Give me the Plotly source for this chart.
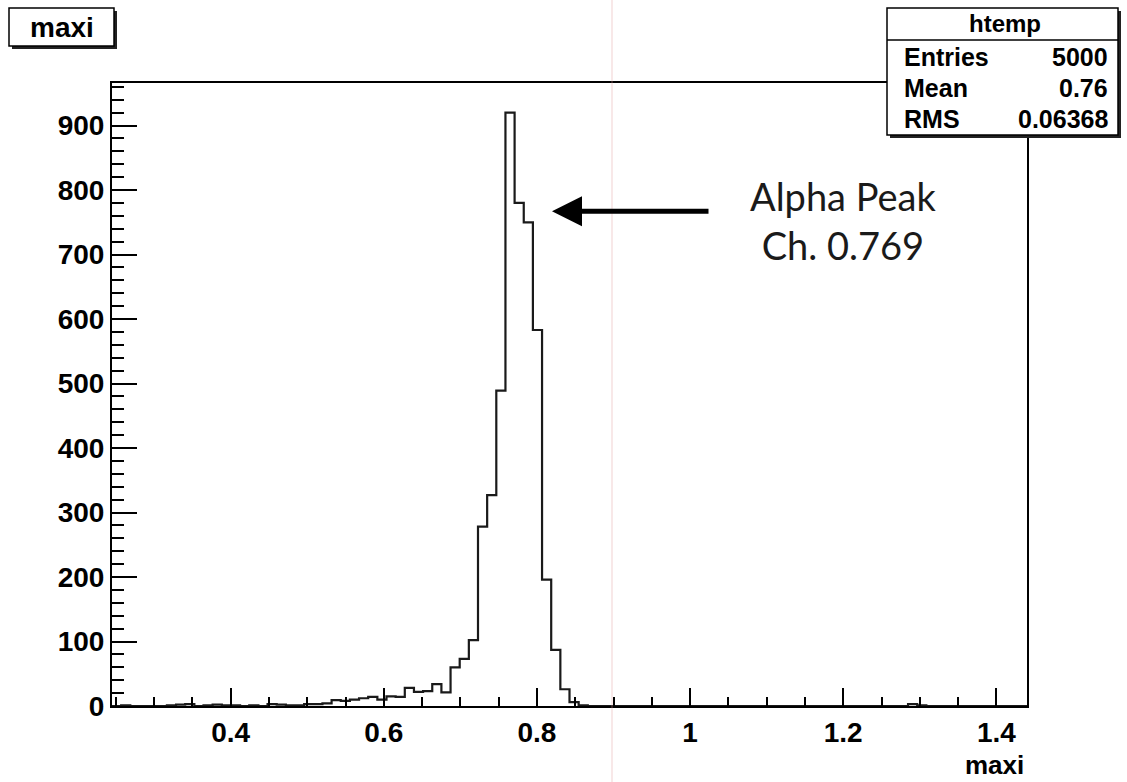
import plotly.graph_objects as go

# ---------------- data ----------------
var_name = "maxi"
hist_name = "htemp"
x_min = 0.245
x_max = 1.44
n_bins = 100
counts = [
    0, 1, 0, 0, 0, 0, 1, 2, 3, 0,
    1, 2, 1, 1, 0, 1, 0, 3, 2, 1,
    1, 3, 3, 4, 9, 8, 10, 12, 14, 10,
    15, 14, 28, 22, 23, 34, 21, 60, 73, 102,
    278, 327, 489, 920, 780, 750, 583, 196, 87, 26,
    6, 1, 0, 0, 0, 0, 0, 0, 0, 0,
    0, 0, 0, 0, 0, 0, 0, 0, 0, 0,
    0, 0, 0, 0, 0, 0, 0, 0, 0, 0,
    0, 0, 0, 0, 0, 0, 0, 3, 1, 0,
    0, 0, 0, 0, 0, 0, 0, 0, 0, 0,
]
stats_labels = ["Entries", "Mean", "RMS"]
stats_values = ["5000", "0.76", "0.06368"]
peak_label = "Alpha Peak<br>Ch. 0.769"
peak_arrow_tip = (0.8196, 767)
peak_arrow_tail = (1.026, 767)
peak_text_pos = (1.1995, 753)
y_max = 966

# ---------------- figure ----------------
W, H = 1127, 782
L, R, T, B = 112, 100, 83, 76
pw, ph = W - L - R, H - T - B

def px(x):
    return (x - L) / pw

def py(y):
    return (H - B - y) / ph

bw = (x_max - x_min) / n_bins
edges = [x_min + i * bw for i in range(n_bins + 1)]
ys = counts + [counts[-1]]

fig = go.Figure()
fig.add_trace(go.Scatter(
    x=edges, y=ys, mode="lines", line_shape="hv",
    line=dict(color="#1a1a1a", width=2.2), hoverinfo="skip", showlegend=False,
))

tickfont = dict(family="Liberation Sans, Arial, sans-serif",
                size=28, color="black", weight="bold")

fig.update_layout(
    width=W, height=H,
    margin=dict(l=L, r=R, t=T, b=B),
    paper_bgcolor="white", plot_bgcolor="white",
    showlegend=False,
    xaxis=dict(
        range=[x_min, x_max], showgrid=False, zeroline=False,
        showline=True, linecolor="black", linewidth=2, mirror=True,
        ticks="inside", ticklen=18, tickwidth=2, tickcolor="black",
        tick0=0, dtick=0.2, tickfont=tickfont,
        minor=dict(dtick=0.05, ticks="inside", ticklen=9, tickwidth=1.5, tickcolor="black"),
    ),
    yaxis=dict(
        range=[0, y_max], showgrid=False, zeroline=False,
        showline=True, linecolor="black", linewidth=2, mirror=True,
        ticks="inside", ticklen=25, tickwidth=2, tickcolor="black",
        tick0=0, dtick=100, tickfont=tickfont,
        minor=dict(dtick=20, ticks="inside", ticklen=12, tickwidth=1.5, tickcolor="black"),
    ),
)

shapes = []
# faint scan line
shapes.append(dict(type="line", xref="paper", yref="paper",
                   x0=px(612), x1=px(612), y0=py(0), y1=py(H),
                   line=dict(color="rgba(225,150,150,0.45)", width=1), layer="above"))
# title box (shadow + box)
shapes.append(dict(type="rect", xref="paper", yref="paper",
                   x0=px(12), x1=px(117), y0=py(49), y1=py(11),
                   fillcolor="#222", line=dict(width=0)))
shapes.append(dict(type="rect", xref="paper", yref="paper",
                   x0=px(9), x1=px(114), y0=py(46), y1=py(8),
                   fillcolor="white", line=dict(color="black", width=1.5)))
# stats box (shadow + box)
shapes.append(dict(type="rect", xref="paper", yref="paper",
                   x0=px(890), x1=px(1121), y0=py(138), y1=py(11),
                   fillcolor="#222", line=dict(width=0)))
shapes.append(dict(type="rect", xref="paper", yref="paper",
                   x0=px(887), x1=px(1118), y0=py(135), y1=py(8),
                   fillcolor="white", line=dict(color="black", width=1.5)))
shapes.append(dict(type="line", xref="paper", yref="paper",
                   x0=px(887), x1=px(1118), y0=py(40), y1=py(40),
                   line=dict(color="black", width=1.5)))
fig.update_layout(shapes=shapes)

boldfont = dict(family="Liberation Sans, Arial, sans-serif", color="black", weight="bold")
ann = []
ann.append(dict(xref="paper", yref="paper", x=px(61.5), y=py(27), text=var_name,
                showarrow=False, xanchor="center", yanchor="middle",
                font=dict(size=28, **boldfont)))
ann.append(dict(xref="paper", yref="paper", x=px(1005), y=py(24), text=hist_name,
                showarrow=False, xanchor="center", yanchor="middle",
                font=dict(size=24, **boldfont)))
row_y = [57, 88, 119]
for lab, val, yy in zip(stats_labels, stats_values, row_y):
    ann.append(dict(xref="paper", yref="paper", x=px(902), y=py(yy), text=lab,
                    showarrow=False, xanchor="left", yanchor="middle",
                    font=dict(size=25, **boldfont)))
    ann.append(dict(xref="paper", yref="paper", x=px(1110), y=py(yy), text=val,
                    showarrow=False, xanchor="right", yanchor="middle",
                    font=dict(size=25, **boldfont)))
# x-axis title
ann.append(dict(xref="paper", yref="paper", x=px(1026), y=py(765), text=var_name,
                showarrow=False, xanchor="right", yanchor="middle",
                font=dict(size=26, **boldfont)))
# peak arrow
ann.append(dict(x=peak_arrow_tip[0], y=peak_arrow_tip[1], xref="x", yref="y",
                ax=peak_arrow_tail[0], ay=peak_arrow_tail[1], axref="x", ayref="y",
                text="", showarrow=True, arrowhead=2, arrowsize=1.2, arrowwidth=5,
                arrowcolor="black"))
ann.append(dict(x=peak_text_pos[0], y=peak_text_pos[1], xref="x", yref="y",
                text=peak_label, showarrow=False, xanchor="center", yanchor="middle",
                font=dict(family="Lato, Open Sans, sans-serif", size=38, color="#1a1a1a")))
fig.update_layout(annotations=ann)

fig.write_html("out.html")
